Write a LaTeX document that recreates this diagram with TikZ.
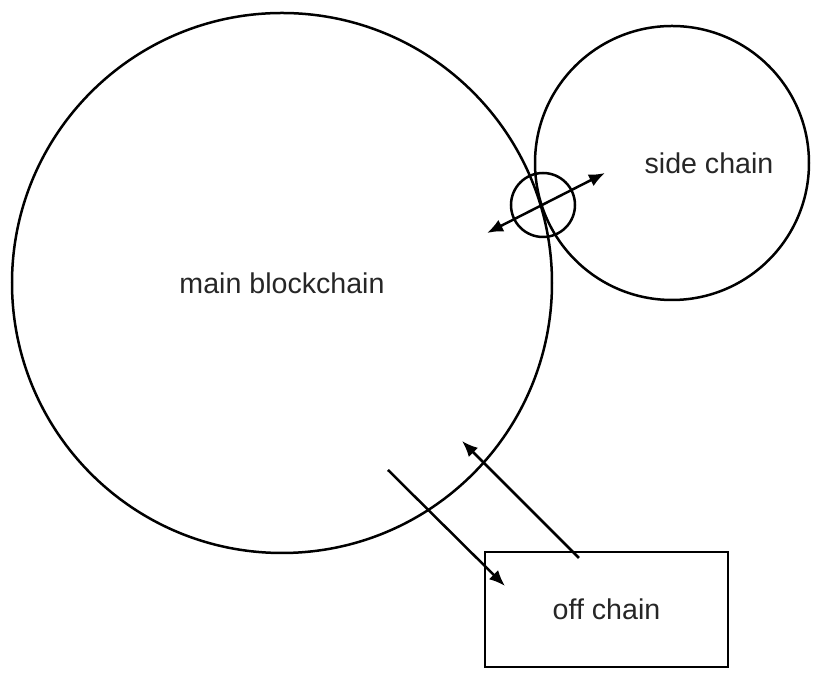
\documentclass[tikz,border=0pt]{standalone}
\usepackage{fontspec}
\setmainfont{Liberation Sans}
\usepackage{tikz}
\usepackage{xcolor}
\usetikzlibrary{arrows.meta}

\begin{document}
\begin{tikzpicture}[x=0.5pt,y=-0.5pt,
    chain/.style={draw, circle, line width=1.25pt, inner sep=0pt},
    lbl/.style={text=black!85, font=\fontsize{14.3}{17}\selectfont},
    arr/.style={line width=1.25pt, -{Latex[length=8pt,width=6.5pt]}}]
                \useasboundingbox (0,0) rectangle (827,688);
                \node[chain, minimum size=270pt] (main) at (282,283) {};
                \node[lbl] (mainlbl) at (282,283) {main blockchain};
                \node[chain, minimum size=137pt] (side) at (672,163) {};
                \node[lbl] (sidelbl) at (709,163) {side chain};
                \node[chain, minimum size=32pt] (peg) at (543,205) {};
                \node[draw, line width=1.25pt, minimum width=121.5pt, minimum height=57.5pt, lbl] (off) at (606.5,609.5) {off chain};
                \coordinate (pegA) at (487,233);
                \coordinate (pegB) at (605,173);
                \coordinate (outA) at (388,470);
                \coordinate (outB) at (505,586);
                \coordinate (inA) at (579,558);
                \coordinate (inB) at (462,441);
                \draw[arr, {Latex[length=8pt,width=6.5pt]}-{Latex[length=8pt,width=6.5pt]}] (pegA) -- (pegB);
                \draw[arr] (outA) -- (outB);
                \draw[arr] (inA) -- (inB);
            \end{tikzpicture}
\end{document}
